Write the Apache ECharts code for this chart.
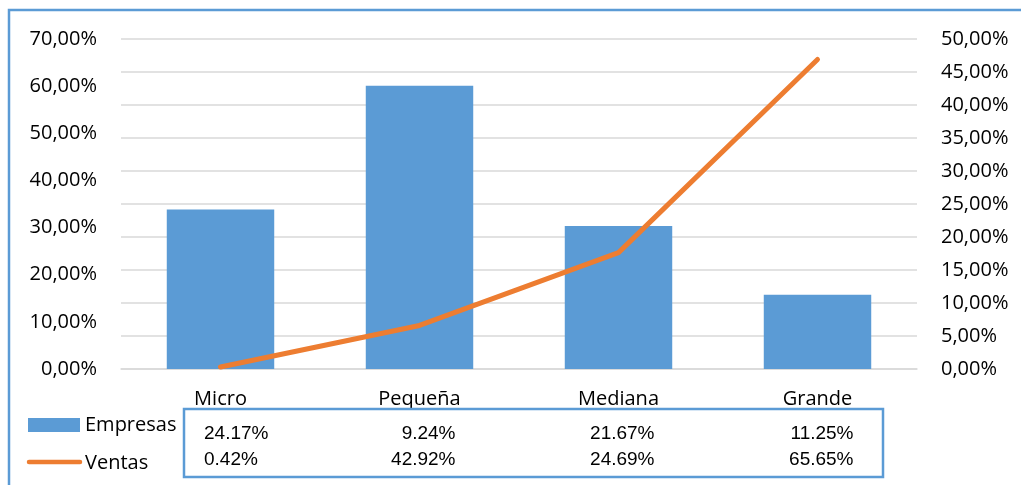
<!DOCTYPE html>
<html><head><meta charset="utf-8">
<script src="https://cdn.jsdelivr.net/npm/echarts@6/dist/echarts.min.js"></script>
<style>html,body{margin:0;padding:0;background:#fff}#c{width:1021px;height:485px}</style>
</head><body><div id="c"></div>
<script>
const categories = ['Micro', 'Pequeña', 'Mediana', 'Grande'];
const empresasBars = [24.17, 42.92, 21.67, 11.25];   // drawn on right axis
const ventasLine = [0.42, 9.24, 24.69, 65.65];       // drawn on left axis
const tableEmpresas = ['24.17%', '9.24%', '21.67%', '11.25%'];
const tableVentas = ['0.42%', '42.92%', '24.69%', '65.65%'];

const BLUE = '#5B9BD5', ORANGE = '#ED7D31';
const AXFONT = 'Open Sans';
const fmt = v => v.toFixed(2).replace('.', ',') + '%';

const chart = echarts.init(document.getElementById('c'));
const option = {
  animation: false,
  grid: { left: 121, right: 104, top: 39, bottom: 116 },
  xAxis: {
    type: 'category', data: categories,
    axisLine: { lineStyle: { color: '#D9D9D9', width: 1.5 } },
    axisTick: { show: false },
    axisLabel: { margin: 20, fontFamily: AXFONT, fontSize: 20, color: '#000' }
  },
  yAxis: [
    { type: 'value', min: 0, max: 70, interval: 10, position: 'left',
      splitLine: { show: false }, axisLine: { show: false }, axisTick: { show: false },
      axisLabel: { formatter: fmt, margin: 24, fontFamily: AXFONT, fontSize: 20, color: '#000' } },
    { type: 'value', min: 0, max: 50, interval: 5, position: 'right',
      splitLine: { lineStyle: { color: '#D9D9D9', width: 1.5 } },
      axisLine: { show: false }, axisTick: { show: false },
      axisLabel: { formatter: fmt, margin: 24, fontFamily: AXFONT, fontSize: 20, color: '#000' } }
  ],
  series: [
    { name: 'Empresas', type: 'bar', yAxisIndex: 1, data: empresasBars, barWidth: '54%',
      itemStyle: { color: BLUE } },
    { name: 'Ventas', type: 'line', yAxisIndex: 0, data: ventasLine, symbol: 'none',
      lineStyle: { color: ORANGE, width: 5, cap: 'round', join: 'round' } }
  ]
};
chart.setOption(option);

// data table & legend below the chart
const colX = categories.map((c, i) => chart.convertToPixel({ xAxisIndex: 0 }, i));
const g = [];
g.push({ type: 'rect', shape: { x: 9, y: 10, width: 1040, height: 520 }, style: { fill: 'none', stroke: BLUE, lineWidth: 2.5 }, z: 100 });
g.push({ type: 'rect', shape: { x: 184, y: 409, width: 699, height: 68 }, style: { fill: 'none', stroke: BLUE, lineWidth: 2.5 }, z: 100 });
g.push({ type: 'rect', shape: { x: 28, y: 418, width: 52, height: 14 }, style: { fill: BLUE } });
g.push({ type: 'line', shape: { x1: 29, y1: 462, x2: 80, y2: 462 }, style: { stroke: ORANGE, lineWidth: 4.5, lineCap: 'round' } });
g.push({ type: 'text', x: 85, y: 425, style: { text: 'Empresas', font: '20px "Open Sans"', fill: '#000', textVerticalAlign: 'middle' } });
g.push({ type: 'text', x: 85, y: 463, style: { text: 'Ventas', font: '20px "Open Sans"', fill: '#000', textVerticalAlign: 'middle' } });
const rows = [[tableEmpresas, 434], [tableVentas, 460]];
rows.forEach(([vals, y]) => {
  vals.forEach((t, i) => {
    const isFirst = i === 0;
    g.push({ type: 'text', x: isFirst ? 204 : colX[i] + 36, y: y,
      style: { text: t, font: '19px "Liberation Sans"', fill: '#000',
        textAlign: isFirst ? 'left' : 'right', textVerticalAlign: 'middle' } });
  });
});
chart.setOption({ graphic: g });
</script></body></html>
